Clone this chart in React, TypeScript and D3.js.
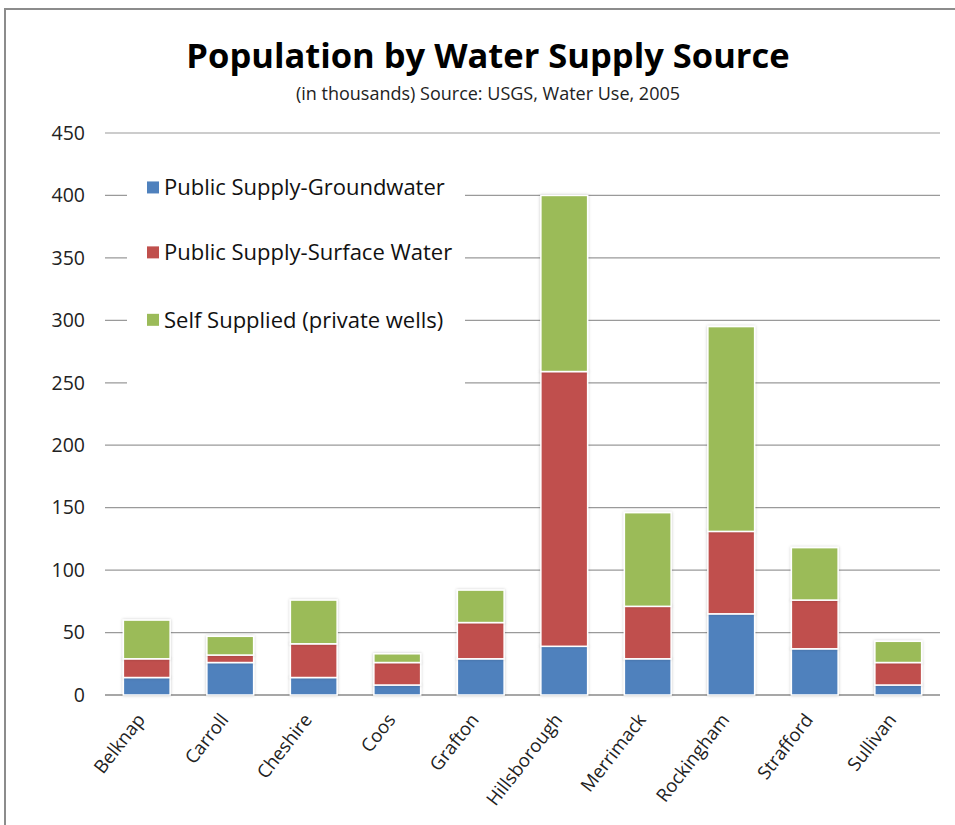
import { useMemo } from 'react';
import { scaleBand, scaleLinear, stack } from 'd3';

const counties = ['Belknap', 'Carroll', 'Cheshire', 'Coos', 'Grafton', 'Hillsborough', 'Merrimack', 'Rockingham', 'Strafford', 'Sullivan'];
const groundwater = [14, 26, 14, 8, 29, 39, 29, 65, 37, 8];
const surfaceWater = [15, 6, 27, 18, 29, 220, 42, 66, 39, 18];
const selfSupplied = [31, 15, 35, 7, 26, 141, 75, 164, 42, 17];
const seriesNames = ['Public Supply-Groundwater', 'Public Supply-Surface Water', 'Self Supplied (private wells)'];
const seriesColors = ['#4F81BD', '#C0504D', '#9BBB59'];
const yTicks = [0, 50, 100, 150, 200, 250, 300, 350, 400, 450];

const W = 955;
const H = 825;
const margin = { top: 133, right: 15, bottom: 130, left: 105 };
const FONT = '"Open Sans", Lato, sans-serif';

export default function App() {
  const innerW = W - margin.left - margin.right;
  const innerH = H - margin.top - margin.bottom;

  const x = scaleBand<string>().domain(counties).range([0, innerW]).paddingInner(0.44).paddingOuter(0.22);
  const y = scaleLinear().domain([0, 450]).range([innerH, 0]);

  const layers = useMemo(() => {
    const rows = counties.map((c, i) => ({ c, s0: groundwater[i], s1: surfaceWater[i], s2: selfSupplied[i] }));
    return stack<any>().keys(['s0', 's1', 's2'])(rows);
  }, []);

  return (
    <svg width={W} height={H} style={{ position: 'absolute', left: 0, top: 0, background: '#fff' }} fontFamily={FONT}>
      <defs>
        <filter id="shadow" x="-20%" y="-5%" width="140%" height="110%">
          <feDropShadow dx="0" dy="0" stdDeviation="1.6" floodColor="#000" floodOpacity="0.22" />
        </filter>
      </defs>
      <rect x={5} y={9} width={W + 20} height={H + 20} fill="none" stroke="#8c8c8c" strokeWidth={2} />

      <text x={488} y={68} textAnchor="middle" fontSize={34.5} fontWeight="bold" fill="#000">Population by Water Supply Source</text>
      <text x={488} y={100} textAnchor="middle" fontSize={18} fill="#222">(in thousands) Source: USGS, Water Use, 2005</text>

      <g transform={`translate(${margin.left},${margin.top})`}>
        {yTicks.map(t => (
          <g key={t}>
            <line x1={0} x2={innerW} y1={y(t)} y2={y(t)} stroke={t === 0 ? '#8a8a8a' : '#9a9a9a'} strokeWidth={t === 0 ? 1.6 : 1.2} />
            <text x={-20} y={y(t)} dy="0.35em" textAnchor="end" fontSize={19.5} fill="#222">{t}</text>
          </g>
        ))}

        {/* legend background hides gridlines behind it */}
        <rect x={22} y={y(418)} width={338} height={y(236) - y(418)} fill="#fff" />
        {seriesNames.map((n, i) => {
          const ly = y([400, 348, 294][i]) - 8;
          return (
            <g key={n} transform={`translate(42,${ly})`}>
              <rect x={0} y={-6} width={12} height={12} fill={seriesColors[i]} />
              <text x={17} y={0} dy="0.36em" fontSize={22} fill="#111">{n}</text>
            </g>
          );
        })}

        {layers.map((layer, li) => (
          <g key={li} fill={seriesColors[li]} stroke="#fff" strokeWidth={1.5} filter="url(#shadow)">
            {layer.map((d: any, i: number) => (
              <rect key={counties[i]} x={x(counties[i])} y={y(d[1])} width={x.bandwidth()} height={y(d[0]) - y(d[1])} />
            ))}
          </g>
        ))}

        {counties.map(c => {
          const cx = (x(c) as number) + x.bandwidth() / 2 - 6;
          return (
            <text key={c} transform={`translate(${cx},${innerH + 21}) rotate(-52)`} textAnchor="end" dy="0.35em" fontSize={18.5} fill="#222">{c}</text>
          );
        })}
      </g>
    </svg>
  );
}
